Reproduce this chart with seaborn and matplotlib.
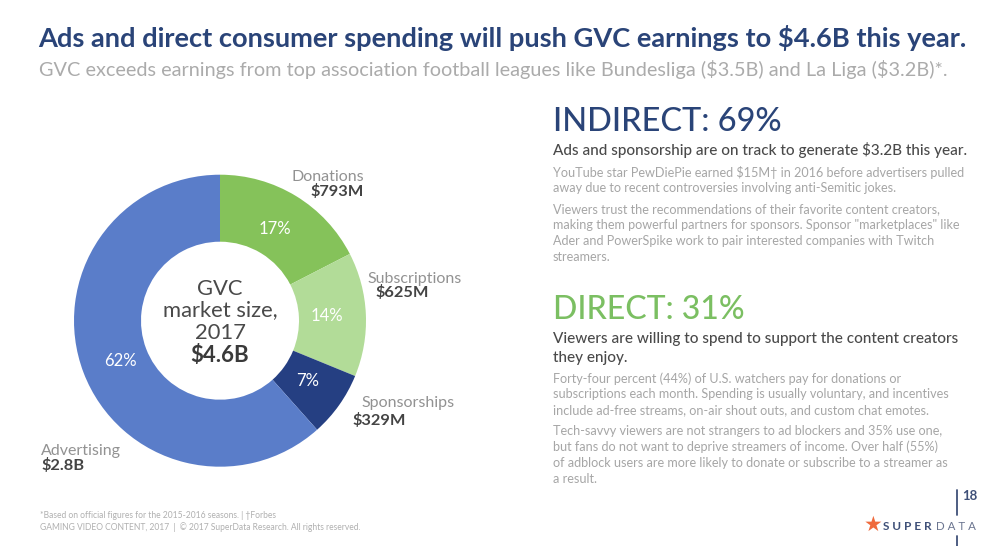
import matplotlib
matplotlib.use("Agg")
import matplotlib.pyplot as plt
from matplotlib.lines import Line2D
import seaborn as sns

# ---- data ----
categories = ["Donations", "Subscriptions", "Sponsorships", "Advertising"]
values = [793, 625, 329, 2800]
value_labels = [r"\$793M", r"\$625M", r"\$329M", r"\$2.8B"]
share_labels = ["17%", "14%", "7%", "62%"]
slice_colors = ["#85c25a", "#b2dc98", "#253f82", "#5a7dc9"]

title = r"Ads and direct consumer spending will push GVC earnings to \$4.6B this year."
subtitle = r"GVC exceeds earnings from top association football leagues like Bundesliga (\$3.5B) and La Liga (\$3.2B)*."
center_lines = ["GVC", "market size,", "2017"]
center_value = r"\$4.6B"
indirect_head = "INDIRECT: 69%"
indirect_sub = r"Ads and sponsorship are on track to generate \$3.2B this year."
indirect_body = [
    "YouTube star PewDiePie earned \\$15M\u2020 in 2016 before advertisers pulled",
    "away due to recent controversies involving anti-Semitic jokes.",
    "Viewers trust the recommendations of their favorite content creators,",
    "making them powerful partners for sponsors. Sponsor \"marketplaces\" like",
    "Ader and PowerSpike work to pair interested companies with Twitch",
    "streamers.",
]
direct_head = "DIRECT: 31%"
direct_sub = ["Viewers are willing to spend to support the content creators", "they enjoy."]
direct_body = [
    "Forty-four percent (44%) of U.S. watchers pay for donations or",
    "subscriptions each month. Spending is usually voluntary, and incentives",
    "include ad-free streams, on-air shout outs, and custom chat emotes.",
    "Tech-savvy viewers are not strangers to ad blockers and 35% use one,",
    "but fans do not want to deprive streamers of income. Over half (55%)",
    "of adblock users are more likely to donate or subscribe to a streamer as",
    "a result.",
]
footnotes = [
    "*Based on official figures for the 2015-2016 seasons. | \u2020Forbes",
    "GAMING VIDEO CONTENT, 2017  |  \u00a9 2017 SuperData Research. All rights reserved.",
]

# ---- layout ----
W, H = 1000, 546
sns.set_theme(style="white")
plt.rcParams["font.family"] = ["Lato", "DejaVu Sans"]
fig = plt.figure(figsize=(W / 100, H / 100), dpi=100, facecolor="white")

cx, cy, R, r_in = 220, 320.7, 146, 79
size = 2 * R + 8
ax = fig.add_axes([(cx - size / 2) / W, 1 - (cy + size / 2) / H, size / W, size / H])
ax.pie(values, colors=sns.color_palette(slice_colors), startangle=90, counterclock=False,
       radius=1, wedgeprops=dict(width=1 - r_in / R, linewidth=0))
lim = size / 2 / R
ax.set_xlim(-lim, lim)
ax.set_ylim(-lim, lim)
ax.set_aspect("equal")
ax.axis("off")


def T(x, y, s, size, color, weight="normal", ha="left", va="baseline", **kw):
    fig.text(x / W, 1 - y / H, s, fontsize=size, color=color, fontweight=weight, ha=ha, va=va, **kw)


NAVY = "#2a4478"
HEAD = "#4a4a4a"
BODY = "#a6a6a6"
LABEL = "#929292"
VAL = "#444444"

T(38, 47, title, 19.6, NAVY, "bold")
T(39, 76, subtitle, 14.3, "#ababab")

# slice annotations
name_pos = [(364, 181, "right"), (367, 283, "left"), (361, 407, "left"), (41, 455, "left")]
val_pos = [(364, 196, "right"), (375, 297, "left"), (352, 425, "left"), (41, 470, "left")]
pct_pos = [(275, 229), (327, 316), (308, 381), (120, 361)]
for name, val, pct, np_, vp, pp in zip(categories, value_labels, share_labels, name_pos, val_pos, pct_pos):
    T(np_[0], np_[1], name, 11.5, LABEL, ha=np_[2])
    T(vp[0], vp[1], val, 11.8, VAL, "bold", ha=vp[2])
    T(pp[0], pp[1], pct, 12, "white", ha="center", va="center")

for y, s in zip([295, 316, 339], center_lines):
    T(220, y, s, 15.8, HEAD, ha="center")
T(220, 362, center_value, 16, "#3a3a3a", "bold", ha="center")

# right column
X = 553
T(X, 131, indirect_head, 23.4, NAVY, "medium")
T(X, 155, indirect_sub, 10.95, HEAD, "medium")
for y, s in zip([177, 192, 213, 229, 245, 261], indirect_body):
    T(X, y, s, 9.07, BODY)
T(X, 319, direct_head, 23, "#7bbf62", "medium")
for y, s in zip([343, 362], direct_sub):
    T(X, y, s, 10.95, HEAD, "medium")
for y, s in zip([383, 398, 414, 435, 451, 467, 483], direct_body):
    T(X, y, s, 9.07, BODY)

# footer
for y, s in zip([518, 530], footnotes):
    T(40, y, s, 6.15, "#b0b0b0")
T(962, 500, "18", 9.5, "#3f5078", "bold")
for y0, y1 in [(490, 515), (536, 546)]:
    fig.add_artist(Line2D([957 / W] * 2, [1 - y0 / H, 1 - y1 / H], color="#3f5078", lw=1.3))
T(873, 525, "\u2605", 15, "#ef6a3c", ha="center", va="center", family="DejaVu Sans")
T(883, 530, "S U P E R", 8.5, "#3f5078", "bold")
T(936, 530, "D A T A", 8.3, "#6b7590")

fig.savefig("out.png", dpi=100, facecolor="white")
